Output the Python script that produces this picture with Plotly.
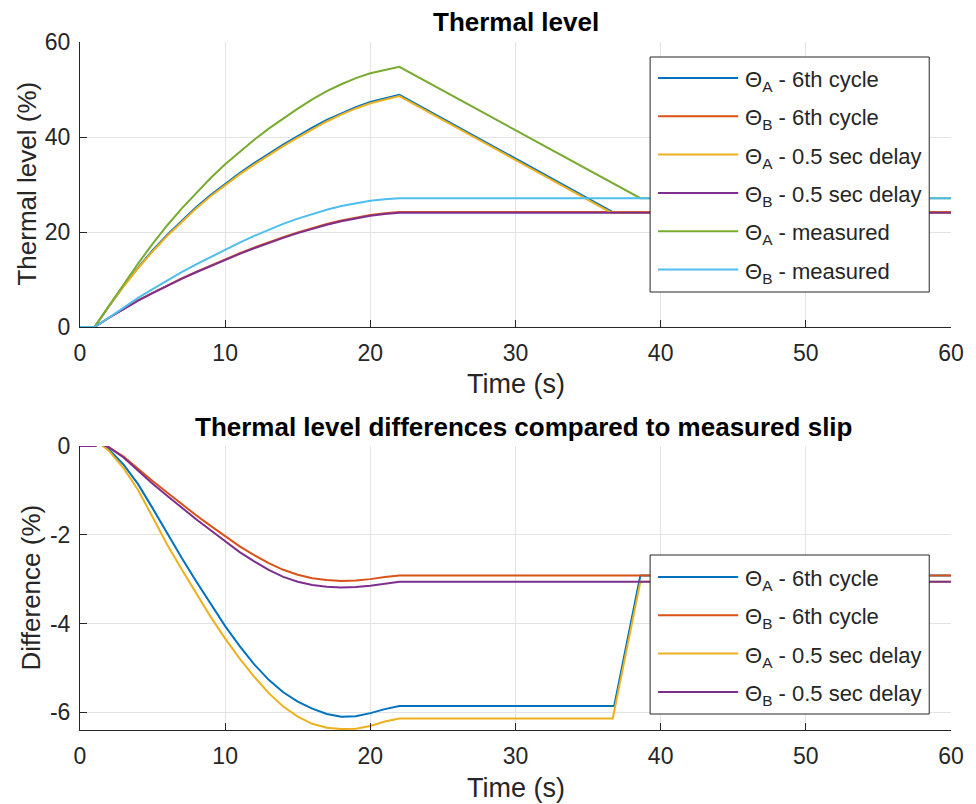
import plotly.graph_objects as go

# ---------------- data ----------------
t_rise = [0, 1, 2, 3, 4, 5, 6, 7, 8, 9, 10, 11, 12, 13, 14, 15, 16, 17, 18, 19, 20, 21, 22]

# Top panel: thermal level (%)
thA_6th_t = t_rise + [36.7, 60]
thA_6th = [0, 0, 4.4, 8.6, 12.5, 16.1, 19.4, 22.4, 25.2, 27.8, 30.2, 32.4, 34.5, 36.5, 38.4,
           40.2, 42.0, 43.6, 45.0, 46.3, 47.4, 48.2, 48.9, 24.2, 24.2]
thB_6th_t = t_rise + [60]
thB_6th = [0, 0, 1.95, 3.85, 5.6, 7.2, 8.75, 10.22, 11.62, 12.97, 14.27, 15.52, 16.72, 17.85, 18.92,
           19.92, 20.84, 21.68, 22.42, 23.05, 23.57, 23.95, 24.2, 24.2]
thA_delay_t = t_rise + [36.6, 60]
thA_delay = [0, 0, 4.37, 8.52, 12.37, 15.9, 19.15, 22.14, 24.93, 27.52, 29.92, 32.12, 34.2, 36.18, 38.06,
             39.85, 41.65, 43.27, 44.7, 46.01, 47.1, 47.9, 48.62, 24.06, 24.06]
thB_delay_t = t_rise + [60]
thB_delay = [0, 0, 1.95, 3.83, 5.56, 7.14, 8.68, 10.14, 11.53, 12.87, 14.15, 15.39, 16.58, 17.7, 18.76,
             19.76, 20.69, 21.53, 22.27, 22.9, 23.42, 23.8, 24.06, 24.06]
thA_meas_t = t_rise + [38.6, 60]
thA_meas = [0, 0, 4.48, 9.02, 13.36, 17.5, 21.37, 24.92, 28.25, 31.37, 34.26, 36.91, 39.42, 41.77, 43.95,
            45.96, 47.92, 49.64, 51.1, 52.39, 53.42, 54.13, 54.76, 27.12, 27.12]
thB_meas_t = t_rise + [60]
thB_meas = [0, 0, 1.98, 4.09, 6.12, 7.99, 9.8, 11.53, 13.18, 14.77, 16.3, 17.78, 19.18, 20.49, 21.71,
            22.82, 23.82, 24.7, 25.46, 26.08, 26.57, 26.9, 27.12, 27.12]

# Bottom panel: differences compared to measured slip (%)
t_diff = [0, 1, 1.4, 2, 3, 4, 5, 6, 7, 8, 9, 10, 11, 12, 13, 14, 15, 16, 17, 18, 19, 20, 21, 22]
dA_6th_t = t_diff + [36.8, 38.6, 60]
dA_6th = [0, 0, 0.05, -0.08, -0.42, -0.86, -1.4, -1.97, -2.52, -3.05, -3.57, -4.06, -4.51, -4.92,
          -5.27, -5.55, -5.76, -5.92, -6.04, -6.1, -6.09, -6.02, -5.93, -5.86, -5.86, -2.92, -2.92]
dB_6th_t = t_diff + [60]
dB_6th = [0, 0, 0.05, -0.03, -0.24, -0.52, -0.79, -1.05, -1.31, -1.56, -1.8, -2.03, -2.26, -2.46,
          -2.64, -2.79, -2.9, -2.98, -3.02, -3.04, -3.03, -3.0, -2.95, -2.92, -2.92]
dA_delay_t = t_diff + [36.7, 38.6, 60]
dA_delay = [0, 0, 0.05, -0.11, -0.5, -0.99, -1.6, -2.22, -2.78, -3.32, -3.85, -4.34, -4.79, -5.2,
            -5.57, -5.87, -6.1, -6.26, -6.35, -6.38, -6.37, -6.31, -6.21, -6.14, -6.14, -3.06, -3.06]
dB_delay_t = t_diff + [60]
dB_delay = [0, 0, 0.05, -0.03, -0.26, -0.56, -0.85, -1.12, -1.39, -1.65, -1.9, -2.15, -2.39, -2.6,
            -2.79, -2.95, -3.06, -3.13, -3.17, -3.19, -3.18, -3.15, -3.1, -3.06, -3.06]

x_ticks = [0, 10, 20, 30, 40, 50, 60]
y1_ticks = [0, 20, 40, 60]
y2_ticks = [-6, -4, -2, 0]
y2_ticklabels = ["-6", "-4", "-2", "0"]

names = ["Θ<sub>A</sub> - 6th cycle", "Θ<sub>B</sub> - 6th cycle",
         "Θ<sub>A</sub> - 0.5 sec delay", "Θ<sub>B</sub> - 0.5 sec delay",
         "Θ<sub>A</sub> - measured", "Θ<sub>B</sub> - measured"]
colors = ["#0072BD", "#D95319", "#EDB120", "#7E2F8E", "#77AC30", "#4DBEEE"]

top_series = [(thA_6th_t, thA_6th), (thB_6th_t, thB_6th), (thA_delay_t, thA_delay),
              (thB_delay_t, thB_delay), (thA_meas_t, thA_meas), (thB_meas_t, thB_meas)]
bot_series = [(dA_6th_t, dA_6th), (dB_6th_t, dB_6th), (dA_delay_t, dA_delay), (dB_delay_t, dB_delay)]

FONT = "Liberation Sans, Arial, sans-serif"
TXT = "#262626"

fig = go.Figure()
for i, (tx, ty) in enumerate(top_series):
    fig.add_trace(go.Scatter(x=tx, y=ty, mode="lines", name=names[i],
                             line=dict(color=colors[i], width=2),
                             xaxis="x", yaxis="y", showlegend=False))
for i, (tx, ty) in enumerate(bot_series):
    fig.add_trace(go.Scatter(x=tx, y=ty, mode="lines", name=names[i],
                             line=dict(color=colors[i], width=2),
                             xaxis="x2", yaxis="y2", showlegend=False))

axis_common = dict(showline=True, linecolor=TXT, linewidth=1, ticks="inside", ticklen=7,
                   tickcolor=TXT, showgrid=True, gridcolor="#e3e3e3", gridwidth=1,
                   zeroline=False, mirror=False,
                   tickfont=dict(family=FONT, size=23, color=TXT))

ML, MR, MT, MB = 80, 16, 42, 74
W, H = 976, 804
plot_w = W - ML - MR
plot_h = H - MT - MB
top_lo = (730 - 327) / plot_h
bot_hi = (730 - 446) / plot_h

fig.update_layout(
    width=W, height=H,
    margin=dict(l=ML, r=MR, t=MT, b=MB),
    paper_bgcolor="white", plot_bgcolor="white",
    font=dict(family=FONT, color=TXT),
    showlegend=False,
    xaxis=dict(domain=[0, 1], range=[0, 60], tickvals=x_ticks,
               anchor="y", ticklabelstandoff=5, **axis_common),
    yaxis=dict(domain=[top_lo, 1], range=[0, 60], tickvals=y1_ticks,
               anchor="x", ticklabelstandoff=4, **axis_common),
    xaxis2=dict(domain=[0, 1], range=[0, 60], tickvals=x_ticks,
                anchor="y2", ticklabelstandoff=5, **axis_common),
    yaxis2=dict(domain=[0, bot_hi], range=[-6.4, 0], tickvals=y2_ticks, ticktext=y2_ticklabels,
                anchor="x2", ticklabelstandoff=4, **axis_common),
)


def px_x(px):
    return (px - ML) / plot_w


def px_y(py):
    return (730 - py) / plot_h


# titles and axis titles
annots = [
    dict(text="<b>Thermal level</b>", x=520, y=22, size=26, angle=0, color="#000000"),
    dict(text="<b>Thermal level differences compared to measured slip</b>", x=528, y=427,
         size=26, angle=0, color="#000000"),
    dict(text="Time (s)", x=520, y=384, size=27, angle=0, color=TXT),
    dict(text="Time (s)", x=520, y=788, size=27, angle=0, color=TXT),
    dict(text="Thermal level (%)", x=26, y=184, size=26, angle=-90, color=TXT),
    dict(text="Difference (%)", x=30, y=588, size=26, angle=-90, color=TXT),
]
for a in annots:
    fig.add_annotation(text=a["text"], x=px_x(a["x"]), y=px_y(a["y"]), xref="paper", yref="paper",
                       xanchor="center", yanchor="middle", showarrow=False, textangle=a["angle"],
                       font=dict(family=FONT, size=a["size"], color=a["color"]))


# legends (MATLAB-style boxes)
def draw_legend(n, box_top, box_bottom, row_first, row_step):
    fig.add_shape(type="rect", xref="paper", yref="paper",
                  x0=px_x(656), x1=px_x(938), y0=px_y(box_bottom), y1=px_y(box_top),
                  line=dict(color=TXT, width=1), fillcolor="white", layer="above")
    for i in range(n):
        yc = row_first + i * row_step
        fig.add_shape(type="line", xref="paper", yref="paper",
                      x0=px_x(664), x1=px_x(745), y0=px_y(yc), y1=px_y(yc),
                      line=dict(color=colors[i], width=2), layer="above")
        fig.add_annotation(text=names[i], x=px_x(750), y=px_y(yc + 3), xref="paper", yref="paper",
                           xanchor="left", yanchor="middle", showarrow=False,
                           font=dict(family=FONT, size=22, color=TXT))


draw_legend(6, 57, 292, 78, 38.3)
draw_legend(4, 555, 714, 577, 38.3)

fig.write_html("out.html")
